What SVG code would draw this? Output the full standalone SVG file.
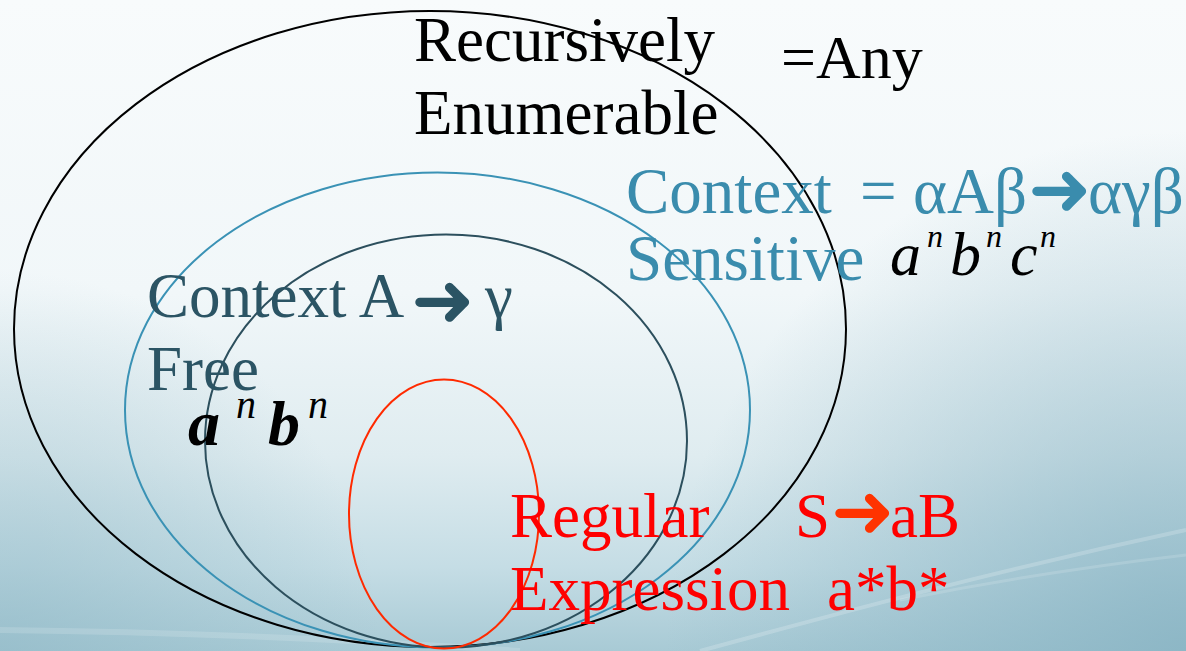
<svg xmlns="http://www.w3.org/2000/svg" width="1186" height="651" viewBox="0 0 1186 651">
<defs>
<linearGradient id="bg" x1="0" y1="0" x2="0" y2="1">
<stop offset="0" stop-color="#f8fbfc"/>
<stop offset="0.45" stop-color="#f1f7f9"/>
<stop offset="0.7" stop-color="#dfecf0"/>
<stop offset="0.87" stop-color="#c5dde5"/>
<stop offset="1" stop-color="#a8cad5"/>
</linearGradient>
<radialGradient id="br" cx="1186" cy="651" r="520" gradientUnits="userSpaceOnUse">
<stop offset="0" stop-color="#86b2c2" stop-opacity="0.8"/>
<stop offset="1" stop-color="#86b2c2" stop-opacity="0"/>
</radialGradient>
<radialGradient id="bl" cx="0" cy="651" r="380" gradientUnits="userSpaceOnUse">
<stop offset="0" stop-color="#8fb8c6" stop-opacity="0.6"/>
<stop offset="1" stop-color="#8fb8c6" stop-opacity="0"/>
</radialGradient>
<style>
.e{fill:none;stroke-width:2}
.t{font-family:"Liberation Serif","Times New Roman",serif;font-size:63px}
.ar{font-family:"DejaVu Sans",sans-serif;font-size:76px}
.it{font-family:"Liberation Serif","Times New Roman",serif;font-style:italic}
.blk{fill:#000}
.teal{fill:#3a8cad}
.slate{fill:#2b5464}
.red{fill:#ff0000}
</style>
</defs>
<g id="background">
<rect width="1186" height="651" fill="url(#bg)"/>
<rect width="1186" height="651" fill="url(#br)"/>
<rect width="1186" height="651" fill="url(#bl)"/>
<path d="M0,630 C200,632 360,640 520,651" fill="none" stroke="#ffffff" stroke-opacity="0.15" stroke-width="6"/>
<path d="M700,651 C850,610 1000,570 1186,530" fill="none" stroke="#ffffff" stroke-opacity="0.2" stroke-width="4"/>
<path d="M900,600 C1000,580 1100,565 1186,555" fill="none" stroke="#ffffff" stroke-opacity="0.15" stroke-width="3"/>
</g>
<g id="connectors"></g>
<g id="recursively-enumerable">
<ellipse class="e" cx="430" cy="329" rx="416" ry="318" stroke="#000"/>
<text class="t blk" x="414" y="61">Recursively</text>
<text class="t blk" x="414" y="134">Enumerable</text>
<text class="t blk" x="781" y="78" style="font-size:62px">=Any</text>
</g>
<g id="context-sensitive">
<ellipse class="e" cx="437.5" cy="410" rx="312.5" ry="237.5" stroke="#3a92b5"/>
<text class="t teal" x="626" y="213" style="font-size:65px">Context</text>
<text class="t teal" x="860" y="213" style="font-size:65px">= αAβ</text>
<text class="ar teal" x="1028" y="215">➜</text>
<text class="t teal" x="1088" y="213" style="font-size:65px">αγβ</text>
<text class="t teal" x="626" y="280" style="font-size:65px">Sensitive</text>
<text class="it blk" y="275" style="font-size:62px"><tspan x="890">a</tspan><tspan x="950">b</tspan><tspan x="1010">c</tspan></text>
<text class="it blk" y="247" style="font-size:32px"><tspan x="927">n</tspan><tspan x="986">n</tspan><tspan x="1040">n</tspan></text>
</g>
<g id="context-free">
<ellipse class="e" cx="446" cy="441" rx="241" ry="206.5" stroke="#2c4f5d"/>
<text class="t slate" x="147" y="317">Context A</text>
<text class="ar slate" x="411" y="326">➜</text>
<text class="t slate" x="485" y="317">γ</text>
<text class="t slate" x="147" y="390">Free</text>
<text class="it blk" y="445" style="font-size:64px;font-weight:bold"><tspan x="188">a</tspan><tspan x="268">b</tspan></text>
<text class="it blk" y="418" style="font-size:40px"><tspan x="236">n</tspan><tspan x="308">n</tspan></text>
</g>
<g id="regular">
<ellipse class="e" cx="444" cy="514" rx="95" ry="134.5" stroke="#ff2a00"/>
<text class="t red" x="510" y="537">Regular</text>
<text class="t red" x="795" y="537">S</text>
<text class="ar" x="831" y="537" fill="#ff3300">➜</text>
<text class="t red" x="890" y="537">aB</text>
<text class="t red" x="510" y="610">Expression</text>
<text class="t red" x="827" y="610">a*b*</text>
</g>
</svg>
